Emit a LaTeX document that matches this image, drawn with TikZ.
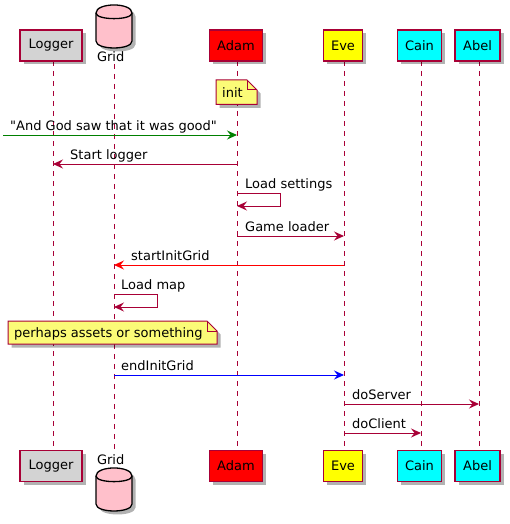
\documentclass[tikz,border=0pt]{standalone}
\usepackage{fontspec}
\setmainfont{DejaVu Sans}[Ligatures=TeXOff]
\usetikzlibrary{arrows.meta,shadows}
\definecolor{pborder}{HTML}{A80036}
\definecolor{notefill}{HTML}{FBFB77}
\definecolor{loggerfill}{HTML}{D3D3D3}
\definecolor{gridfill}{HTML}{FFC0CB}
\definecolor{adamfill}{HTML}{FF0000}
\definecolor{evefill}{HTML}{FFFF00}
\definecolor{kidfill}{HTML}{00FFFF}
\definecolor{godgreen}{HTML}{008000}
\definecolor{msgred}{HTML}{FF0000}
\definecolor{msgblue}{HTML}{0000FF}
\begin{document}
\begin{tikzpicture}[x=1pt,y=-1pt,
  font=\fontsize{13}{15}\selectfont,
  shade/.style={drop shadow={shadow xshift=3.5pt,shadow yshift=-3.5pt,opacity=0.3,fill=black}},
  part/.style={draw=pborder,line width=1.1pt,minimum height=31pt,inner sep=0pt,shade},
  life/.style={draw=pborder,line width=0.9pt,dash pattern=on 5pt off 5pt},
  msg/.style={draw=pborder,line width=1pt,-{Stealth[length=10pt,width=9pt,inset=3.5pt]}},
  lbl/.style={anchor=base west,inner sep=0pt},
  notebox/.style={draw=pborder,fill=notefill,line width=1pt,shade},
  dbshape/.style={draw=black,fill=gridfill,line width=1.3pt,shade}
]
\useasboundingbox (0,0) rectangle (509,524);

% lifeline end points
\coordinate (logT) at (53,61);   \coordinate (logB) at (53,450);
\coordinate (gridT) at (114,64); \coordinate (gridB) at (114,451);
\coordinate (adamT) at (237,61); \coordinate (adamB) at (237,450);
\coordinate (eveT) at (344,61);  \coordinate (eveB) at (344,450);
\coordinate (cainT) at (421,61); \coordinate (cainB) at (421,450);
\coordinate (abelT) at (479,61); \coordinate (abelB) at (479,450);

% lifelines
\draw[life] (logT) -- (logB);
\draw[life] (gridT) -- (gridB);
\draw[life] (adamT) -- (adamB);
\draw[life] (eveT) -- (eveB);
\draw[life] (cainT) -- (cainB);
\draw[life] (abelT) -- (abelB);

% top participants
\node[part,fill=loggerfill,minimum width=62pt] (logtop) at (51,45.5) {Logger};
\node[part,fill=adamfill,minimum width=53pt] (adamtop) at (236,45.5) {Adam};
\node[part,fill=evefill,minimum width=39pt] (evetop) at (343,45.5) {Eve};
\node[part,fill=kidfill,minimum width=44pt] (caintop) at (419.5,45.5) {Cain};
\node[part,fill=kidfill,minimum width=45pt] (abeltop) at (477.5,45.5) {Abel};
\path[dbshape] (96,13) .. controls (96,2.3) and (132,2.3) .. (132,13)
  -- (132,41) .. controls (132,50.3) and (96,50.3) .. (96,41) -- cycle;
\draw[black,line width=1.3pt] (96,13) .. controls (96,20.5) and (132,20.5) .. (132,13);
\node[anchor=base,inner sep=0pt] (gridtoplbl) at (110.7,62) {Grid};

% bottom participants
\node[part,fill=loggerfill,minimum width=62pt] (logbot) at (51,466) {Logger};
\node[part,fill=adamfill,minimum width=53pt] (adambot) at (236,466) {Adam};
\node[part,fill=evefill,minimum width=39pt] (evebot) at (343,466) {Eve};
\node[part,fill=kidfill,minimum width=44pt] (cainbot) at (419.5,466) {Cain};
\node[part,fill=kidfill,minimum width=45pt] (abelbot) at (477.5,466) {Abel};
\begin{scope}[yshift=-463pt]
\path[dbshape] (96,13) .. controls (96,2.3) and (132,2.3) .. (132,13)
  -- (132,41) .. controls (132,50.3) and (96,50.3) .. (96,41) -- cycle;
\draw[black,line width=1.3pt] (96,13) .. controls (96,20.5) and (132,20.5) .. (132,13);
\end{scope}
\node[anchor=base,inner sep=0pt] (gridbotlbl) at (110.7,464) {Grid};

% note init
\path[notebox] (216,80) -- (247,80) -- (257,90) -- (257,104.5) -- (216,104.5) -- cycle;
\draw[pborder,line width=1pt] (247,80) -- (247,90) -- (257,90);
\node[lbl] (initlbl) at (222,97.5) {init};

% messages
\coordinate (godstart) at (3,135);
\draw[msg,draw=godgreen] (godstart) -- (adamT |- 0,135);
\node[lbl] (godlbl) at (10,130.5) {"And God saw that it was good"};

\draw[msg] (adamT |- 0,164) -- (logT |- 0,164);
\node[lbl] (startlbl) at (70,159.5) {Start logger};

\coordinate (ls1) at (280,193); \coordinate (ls2) at (280,206);
\draw[msg] (adamT |- 0,193) -- (ls1) -- (ls2) -- (adamT |- 0,206);
\node[lbl] (lslbl) at (245,188.5) {Load settings};

\draw[msg] (adamT |- 0,236) -- (eveT |- 0,236);
\node[lbl] (gllbl) at (245,231.5) {Game loader};

\draw[msg,draw=msgred] (eveT |- 0,265) -- (gridT |- 0,265);
\node[lbl] (siglbl) at (131,260.5) {startInitGrid};

\coordinate (lm1) at (157,294); \coordinate (lm2) at (157,307);
\draw[msg] (gridT |- 0,294) -- (lm1) -- (lm2) -- (gridT |- 0,307);
\node[lbl] (lmlbl) at (121,289.5) {Load map};

% note perhaps
\path[notebox] (8,321) -- (207,321) -- (217,331) -- (217,344) -- (8,344) -- cycle;
\draw[pborder,line width=1pt] (207,321) -- (207,331) -- (217,331);
\node[lbl] (perhapslbl) at (14,337) {perhaps assets or something};

\draw[msg,draw=msgblue] (gridT |- 0,375) -- (eveT |- 0,375);
\node[lbl] (eiglbl) at (121,370.5) {endInitGrid};

\draw[msg] (eveT |- 0,404) -- (abelT |- 0,404);
\node[lbl] (dslbl) at (352,399.5) {doServer};

\draw[msg] (eveT |- 0,433) -- (cainT |- 0,433);
\node[lbl] (dclbl) at (352,428.5) {doClient};
\end{tikzpicture}
\end{document}
